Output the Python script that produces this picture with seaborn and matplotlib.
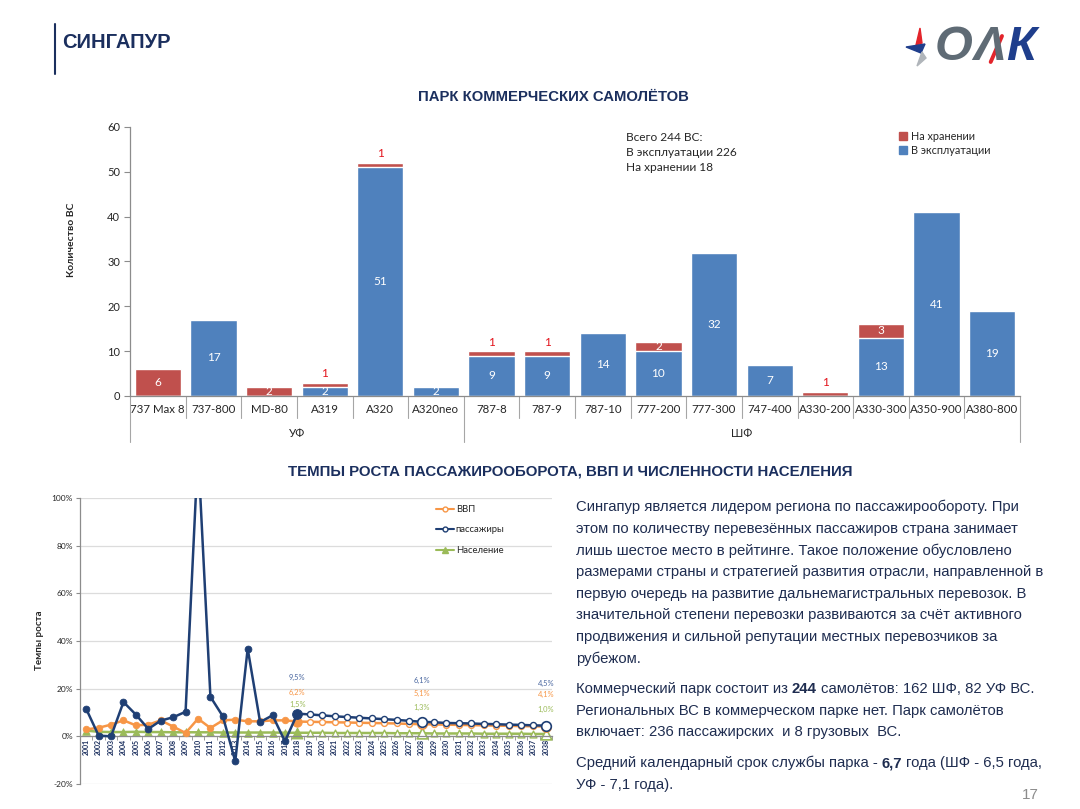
import matplotlib
matplotlib.use('Agg')
import matplotlib.pyplot as plt
import matplotlib.transforms as mtransforms
from matplotlib.lines import Line2D
from matplotlib.patches import Polygon
from matplotlib.ticker import FuncFormatter
import seaborn as sns
import pandas as pd

# fleet of commercial aircraft
aircraft = ['737 Max 8', '737-800', 'MD-80', 'A319', 'A320', 'A320neo',
            '787-8', '787-9', '787-10', '777-200', '777-300', '747-400',
            'A330-200', 'A330-300', 'A350-900', 'A380-800']
in_service = [0, 17, 0, 2, 51, 2, 9, 9, 14, 10, 32, 7, 0, 13, 41, 19]
stored = [6, 0, 2, 1, 1, 0, 1, 1, 0, 2, 0, 0, 1, 3, 0, 0]
groups = ['УФ', 'ШФ']
group_sizes = [6, 10]

# growth rates, %
years = list(range(2001, 2039))
gdp = [2.9, 3.6, 4.9, 6.7, 4.6, 4.9, 6.7, 4.1, 1.4, 7.4, 3.5, 6.7, 7.0, 6.3, 6.3, 6.7, 6.7, 6.2,
       6.1, 6.0, 5.9, 5.8, 5.7, 5.6, 5.5, 5.4, 5.2, 5.1, 5.0, 4.9, 4.8, 4.7, 4.6, 4.5, 4.4, 4.3, 4.2, 4.1]
passengers = [11.5, 0.3, 0.0, 14.4, 9.1, 3.1, 6.6, 8.0, 10.3, 120.0, 16.6, 8.4, -10.5, 36.8, 6.0, 8.8, -2.1, 9.5,
              9.2, 8.8, 8.4, 8.1, 7.8, 7.5, 7.2, 6.9, 6.5, 6.1, 5.9, 5.6, 5.5, 5.4, 5.2, 5.1, 4.9, 4.8, 4.6, 4.5]
population = [2.4, 1.9, 1.8, 1.8, 1.9, 1.8, 1.8, 1.7, 1.7, 1.7, 1.7, 1.6, 1.6, 1.6, 1.6, 1.6, 1.5, 1.5,
              1.5, 1.5, 1.4, 1.4, 1.4, 1.4, 1.4, 1.3, 1.3, 1.3, 1.2, 1.2, 1.2, 1.2, 1.1, 1.1, 1.1, 1.1, 1.0, 1.0]
last_fact_year = 2018
label_years = [2018, 2028, 2038]

RED = '#C0504D'
BLUE = '#4F81BD'
NAVY = '#1F3F74'
ORANGE = '#F79646'
GREEN = '#9BBB59'
TITLE = '#1B2F5E'
TEXT = '#1F2D50'
GREY = '#8C8C8C'
NARROW = ['Liberation Sans Narrow', 'Liberation Sans', 'DejaVu Sans']
SANS = ['Liberation Sans', 'DejaVu Sans']

sns.set_style('white')
plt.rcParams['font.family'] = ['Lato', 'DejaVu Sans']

W, H = 1080, 809
fig = plt.figure(figsize=(W / 100, H / 100), dpi=100)
renderer = fig.canvas.get_renderer()


def px_axes(left, top, right, bottom):
    return fig.add_axes([left / W, 1 - bottom / H, (right - left) / W, (bottom - top) / H])


def fitted_text(x, y, s, width_px, size=12, **kw):
    t = fig.text(x / W, 1 - y / H, s, fontsize=size, **kw)
    w = t.get_window_extent(renderer).width
    t.set_fontsize(size * width_px / w)
    return t


# ---------- header ----------
fig.add_artist(Line2D([55 / W, 55 / W], [1 - 24 / H, 1 - 74 / H], color=TITLE, lw=1.5))
fitted_text(62, 43, 'СИНГАПУР', 108, family=NARROW, fontweight='bold', color=TITLE, va='center')

# logo
t1 = fig.text(935 / W, 1 - 48 / H, 'О', fontsize=35, family=SANS, fontweight='bold',
              style='italic', color='#5F6B75', va='center')
x_a = 935 + t1.get_window_extent(renderer).width
t2 = fig.text(x_a / W, 1 - 48 / H, 'Λ', fontsize=35, family=SANS, fontweight='bold',
              style='italic', color='#5F6B75', va='center')
wa = t2.get_window_extent(renderer).width
fig.text((x_a + wa + 1) / W, 1 - 48 / H, 'К', fontsize=35, family=SANS, fontweight='bold',
         style='italic', color='#1F3E8C', va='center')
fig.add_artist(Line2D([(x_a + wa * 0.55) / W, (x_a + wa * 0.9) / W], [1 - 62 / H, 1 - 36 / H],
                      color='#E3242B', lw=2.8))
for pts, col in [([(920, 28), (916, 45), (922, 43)], '#E3242B'),
                 ([(906, 47), (925, 44), (921, 53)], '#1F3E8C'),
                 ([(922, 52), (917, 66), (926, 58)], '#B0B5BA')]:
    fig.add_artist(Polygon([(x / W, 1 - y / H) for x, y in pts], closed=True, color=col,
                           transform=fig.transFigure))

fitted_text(553, 97, 'ПАРК КОММЕРЧЕСКИХ САМОЛЁТОВ', 270, family=NARROW, fontweight='bold',
            color=TITLE, ha='center', va='center')
fitted_text(570, 471, 'ТЕМПЫ РОСТА ПАССАЖИРООБОРОТА, ВВП И ЧИСЛЕННОСТИ НАСЕЛЕНИЯ', 564,
            family=NARROW, fontweight='bold', color=TITLE, ha='center', va='center')

# ---------- fleet bar chart ----------
ax1 = px_axes(130, 127, 1020, 396)
fleet = pd.DataFrame({'type': aircraft, 'service': in_service, 'stored': stored})
fleet['total'] = fleet['service'] + fleet['stored']
sns.barplot(data=fleet, x='type', y='total', color=RED, saturation=1, width=0.83, ax=ax1)
sns.barplot(data=fleet, x='type', y='service', color=BLUE, saturation=1, width=0.83, ax=ax1)
ax1.set_xlim(-0.5, len(aircraft) - 0.5)
ax1.set_ylim(0, 60)
ax1.set_yticks(range(0, 61, 10))
ax1.set_xlabel('')
ax1.set_ylabel('')
ax1.tick_params(axis='y', labelsize=8, length=4, color=GREY, direction='out', left=True, pad=3)
ax1.tick_params(axis='x', labelsize=8.3, length=0, pad=6)
for sp in ['top', 'right']:
    ax1.spines[sp].set_visible(False)
for sp in ['left', 'bottom']:
    ax1.spines[sp].set_color(GREY)
    ax1.spines[sp].set_linewidth(0.9)

for i, row in fleet.iterrows():
    if row['service'] > 0:
        ax1.text(i, row['service'] / 2, str(row['service']), ha='center', va='center',
                 color='white', fontsize=8.5)
    if row['stored'] == 1:
        ax1.annotate('1', (i, row['total']), xytext=(0, 2.5), textcoords='offset points',
                     ha='center', va='bottom', color='#E3141C', fontsize=8.5)
    elif row['stored'] > 1:
        ax1.text(i, row['service'] + row['stored'] / 2, str(row['stored']), ha='center',
                 va='center', color='white', fontsize=8.5)

# category separators and group labels
trans = mtransforms.blended_transform_factory(ax1.transData, ax1.transAxes)
bounds = [0]
for n in group_sizes:
    bounds.append(bounds[-1] + n)
for k in range(len(aircraft) + 1):
    depth = -0.172 if k in bounds else -0.082
    ax1.plot([k - 0.5, k - 0.5], [0, depth], transform=trans, color='#A6A6A6', lw=0.8, clip_on=False)
for g, a, b in zip(groups, bounds[:-1], bounds[1:]):
    ax1.text((a + b - 1) / 2, -0.138, g, transform=trans, ha='center', va='center', fontsize=8.3)

fig.text(72 / W, 1 - 240 / H, 'Количество ВС', rotation=90, ha='center', va='center',
         fontsize=7.5, fontweight='bold')
fig.text(626 / W, 1 - 132 / H, 'Всего 244 ВС:\nВ эксплуатации 226\nНа хранении 18',
         ha='left', va='top', fontsize=8.6, linespacing=1.45)
fleet_handles = [Line2D([0], [0], marker='s', ls='', color=RED, ms=5.5),
                 Line2D([0], [0], marker='s', ls='', color=BLUE, ms=5.5)]
fig.legend(fleet_handles, ['На хранении', 'В эксплуатации'], loc='upper left',
           bbox_to_anchor=(899 / W, 1 - 131 / H), frameon=False, fontsize=7.8,
           handlelength=0.8, handletextpad=0.3, labelspacing=0.3, borderpad=0, borderaxespad=0)

# ---------- growth line chart ----------
ax2 = px_axes(80, 498, 552, 784)
growth = pd.DataFrame({'year': years, 'gdp': gdp, 'pax': passengers, 'pop': population})
fact = growth[growth['year'] <= last_fact_year]
fcst = growth[growth['year'] > last_fact_year]
marked = growth[growth['year'].isin(label_years)]

series = [('pop', GREEN, '^', 30, 2), ('gdp', ORANGE, 'o', 22, 3), ('pax', NAVY, 'o', 24, 4)]
for col, c, m, s, z in series:
    sns.lineplot(data=growth, x='year', y=col, color=c, lw=1.8, ax=ax2, zorder=z)
    sns.scatterplot(data=fact, x='year', y=col, color=c, marker=m, s=s, edgecolor=c,
                    linewidth=0.6, ax=ax2, zorder=z + 0.1, legend=False)
    sns.scatterplot(data=fcst, x='year', y=col, color='white', marker=m, s=s * 0.8, edgecolor=c,
                    linewidth=1.0, ax=ax2, zorder=z + 0.1, legend=False)
    sns.scatterplot(data=marked[marked['year'] == last_fact_year], x='year', y=col, color=c,
                    marker=m, s=s * 2, edgecolor=c, linewidth=0.8, ax=ax2, zorder=z + 0.2, legend=False)
    sns.scatterplot(data=marked[marked['year'] > last_fact_year], x='year', y=col, color='white',
                    marker=m, s=s * 2, edgecolor=c, linewidth=1.2, ax=ax2, zorder=z + 0.2, legend=False)

# value labels above the chart lines
label_rows = {'pax': ('#4A67A0', [24.8, 23.6, 22.3]), 'gdp': (ORANGE, [18.5, 18.1, 17.7]),
              'pop': (GREEN, [13.5, 12.2, 11.4])}
for col, (c, heights) in label_rows.items():
    for yr, hy in zip(label_years, heights):
        v = growth.loc[growth['year'] == yr, col].iloc[0]
        ax2.text(yr, hy, f'{v:.1f}%'.replace('.', ','), ha='center', va='center',
                 fontsize=5.4, color=c)

# the x axis crosses at 0 - set before ticks, set_position resets tick styling
ax2.spines['bottom'].set_position(('data', 0))
ax2.set_xlim(years[0] - 0.5, years[-1] + 0.5)
ax2.set_ylim(-20, 100)
ax2.set_yticks(range(-20, 101, 20))
ax2.yaxis.set_major_formatter(FuncFormatter(lambda v, p: f'{v:.0f}%'))
ax2.set_xticks(years)
ax2.set_xticks([y - 0.5 for y in years] + [years[-1] + 0.5], minor=True)
ax2.set_xticklabels([str(y) for y in years], rotation=90, fontsize=5, fontweight='bold',
                    color=TITLE, va='top')
ax2.set_xlabel('')
ax2.set_ylabel('')
ax2.tick_params(axis='x', which='major', length=0, pad=2)
ax2.tick_params(axis='x', which='minor', length=3, color=GREY, direction='out', bottom=True)
ax2.tick_params(axis='y', labelsize=6, length=3, color=GREY, direction='out', left=True, pad=2)
ax2.grid(axis='y', color='#DCDCDC', lw=0.9)
ax2.set_axisbelow(True)
for sp in ['top', 'right']:
    ax2.spines[sp].set_visible(False)
for sp in ['left', 'bottom']:
    ax2.spines[sp].set_color(GREY)
    ax2.spines[sp].set_linewidth(0.9)

growth_handles = [Line2D([0], [0], color=ORANGE, lw=1.5, marker='o', ms=3.5, mfc='white', mec=ORANGE),
                  Line2D([0], [0], color=NAVY, lw=1.5, marker='o', ms=3.5, mfc='white', mec=NAVY),
                  Line2D([0], [0], color=GREEN, lw=1.5, marker='^', ms=4.5, mfc=GREEN, mec=GREEN)]
ax2.legend(growth_handles, ['ВВП', 'пассажиры', 'Население'], loc='upper left',
           bbox_to_anchor=(0.755, 0.975), frameon=False, fontsize=6.8, handlelength=1.9,
           handletextpad=0.15, labelspacing=1.2, borderpad=0, borderaxespad=0)
fig.text(40 / W, 1 - 640 / H, 'Темпы роста', rotation=90, ha='center', va='center',
         fontsize=7, fontweight='bold')

# ---------- commentary text ----------
paragraphs = [
    (507, [[('Сингапур является лидером региона по пассажирообороту. При', False)],
           [('этом по количеству перевезённых пассажиров страна занимает', False)],
           [('лишь шестое место в рейтинге. Такое положение обусловлено', False)],
           [('размерами страны и стратегией развития отрасли, направленной в', False)],
           [('первую очередь на развитие дальнемагистральных перевозок. В', False)],
           [('значительной степени перевозки развиваются за счёт активного', False)],
           [('продвижения и сильной репутации местных перевозчиков за', False)],
           [('рубежом.', False)]]),
    (689, [[('Коммерческий парк состоит из', False), ('244', True), ('самолётов: 162 ШФ, 82 УФ ВС.', False)],
           [('Региональных ВС в коммерческом парке нет. Парк самолётов', False)],
           [('включает: 236 пассажирских  и 8 грузовых  ВС.', False)]]),
    (763, [[('Средний календарный срок службы парка -', False), ('6,7', True),
            ('года (ШФ - 6,5 года,', False)],
           [('УФ - 7,1 года).', False)]]),
]
probe = fig.text(0, 0, 'размерами страны и стратегией развития отрасли, направленной в',
                 fontsize=12, family=NARROW)
body_size = 12 * 467 / probe.get_window_extent(renderer).width
probe.set_fontsize(body_size)
probe.set_text('a a')
w_sp = probe.get_window_extent(renderer).width
probe.set_text('aa')
w_sp -= probe.get_window_extent(renderer).width
probe.remove()

for y0, lines in paragraphs:
    for j, parts in enumerate(lines):
        y = y0 + j * 21.7
        x = 576
        for txt, bold in parts:
            t = fig.text(x / W, 1 - y / H, txt, fontsize=body_size, family=NARROW, color=TEXT,
                         fontweight='bold' if bold else 'normal', ha='left', va='center')
            x += t.get_window_extent(renderer).width + w_sp

fig.text(1030 / W, 1 - 795 / H, '17', fontsize=11, color='#8C8C8C', ha='center', va='center',
         family=SANS)

fig.savefig('out.png', dpi=100)
